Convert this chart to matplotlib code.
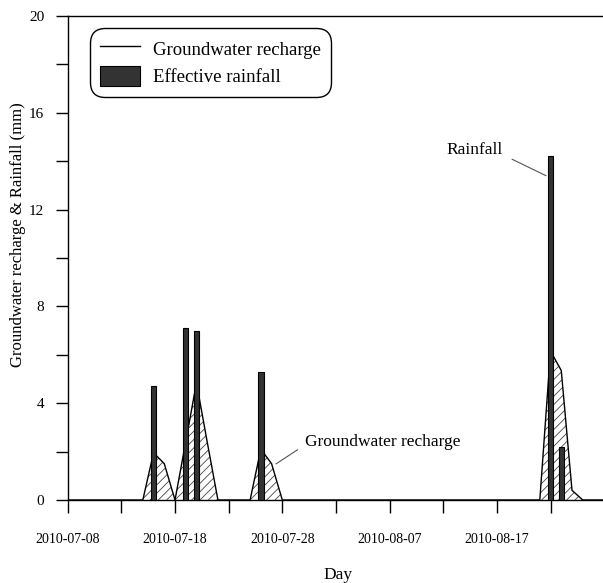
import matplotlib
matplotlib.use('Agg')
import matplotlib.pyplot as plt
import matplotlib.dates as mdates
from matplotlib.lines import Line2D
from matplotlib.patches import Patch
import pandas as pd

plt.rcParams['font.family'] = ['Liberation Serif', 'DejaVu Serif']
plt.rcParams['hatch.linewidth'] = 0.6

# effective rainfall events (mm)
rain_days = ['2010-07-16', '2010-07-19', '2010-07-20', '2010-07-26',
             '2010-08-22', '2010-08-23']
rain_mm = [4.7, 7.1, 7.0, 5.3, 14.2, 2.2]

# groundwater recharge (mm), days not listed are zero
recharge_days = ['2010-07-16', '2010-07-17', '2010-07-19', '2010-07-20',
                 '2010-07-21', '2010-07-26', '2010-07-27', '2010-08-22',
                 '2010-08-23', '2010-08-24']
recharge_mm = [1.95, 1.5, 2.4, 4.85, 2.4, 2.1, 1.5, 6.15, 5.35, 0.4]

start = pd.Timestamp('2010-07-08')
end = pd.Timestamp('2010-08-27')

days = pd.date_range(start, end, freq='D')
recharge = pd.Series(recharge_mm, index=pd.to_datetime(recharge_days))
recharge = recharge.reindex(days, fill_value=0.0)
rain_dates = pd.to_datetime(rain_days)

fig = plt.figure(figsize=(6.03, 5.83), dpi=100)
ax = fig.add_axes([0.1123, 0.1424, 0.8877, 0.8302])

ax.fill_between(days, recharge.values, 0, facecolor='white',
                edgecolor='#444444', hatch='////', linewidth=0, zorder=1)
ax.plot(days, recharge.values, color='black', lw=1.0, zorder=2)
ax.bar(rain_dates, rain_mm, width=0.5, color='#333333',
       edgecolor='black', linewidth=0.8, zorder=3)

ax.set_xlim(start, start + pd.Timedelta(days=49.89))
ax.set_ylim(0, 20)

# labelled ticks every 10 days, plain ticks in between
major = pd.date_range(start, '2010-08-17', freq='10D')
minor = pd.date_range(start + pd.Timedelta(days=5), end, freq='10D')
ax.set_xticks(mdates.date2num(major))
ax.set_xticks(mdates.date2num(minor), minor=True)
ax.xaxis.set_major_formatter(mdates.DateFormatter('%Y-%m-%d'))
ax.set_yticks([0, 4, 8, 12, 16, 20])
ax.set_yticks([2, 6, 10, 14, 18], minor=True)

ax.tick_params(axis='x', which='both', direction='out', length=9.5,
               width=1.0, labelsize=10, pad=14)
ax.tick_params(axis='y', which='both', direction='out', length=8.8,
               width=1.0, labelsize=11, pad=8)

for side in ['left', 'bottom', 'top']:
    ax.spines[side].set_linewidth(1.0)
ax.spines['right'].set_visible(False)

ax.set_ylabel('Groundwater recharge & Rainfall (mm)', fontsize=12)
ax.yaxis.set_label_coords(-0.078, 0.5475)
ax.set_xlabel('Day', fontsize=12.5)
ax.xaxis.set_label_coords(0.505, -0.138)

ax.annotate('Rainfall', xy=(start + pd.Timedelta(days=44.58), 13.4),
            xytext=(start + pd.Timedelta(days=40.57), 14.46),
            ha='right', va='center', fontsize=12.5,
            arrowprops=dict(arrowstyle='-', color='#555555', lw=0.8,
                            shrinkA=5, shrinkB=0, relpos=(1, 0.2)))
ax.annotate('Groundwater recharge', xy=(start + pd.Timedelta(days=19.41), 1.49),
            xytext=(start + pd.Timedelta(days=22.12), 2.41),
            ha='left', va='center', fontsize=12.5,
            arrowprops=dict(arrowstyle='-', color='#555555', lw=0.8,
                            shrinkA=4, shrinkB=0, relpos=(0, 0.3)))

handles = [Line2D([], [], color='black', lw=1.0),
           Patch(facecolor='#333333', edgecolor='black', linewidth=0.8)]
leg = ax.legend(handles, ['Groundwater recharge', 'Effective rainfall'],
                loc='upper left', bbox_to_anchor=(0.0416, 0.975),
                borderaxespad=0, fontsize=13.5, handlelength=2.1,
                handleheight=1.25, handletextpad=0.7, labelspacing=0.4,
                borderpad=0.55, fancybox=True, framealpha=1)
frame = leg.get_frame()
frame.set_boxstyle('round,pad=0,rounding_size=0.8')
frame.set_edgecolor('black')
frame.set_linewidth(1.0)

fig.savefig('out.png', dpi=100)
